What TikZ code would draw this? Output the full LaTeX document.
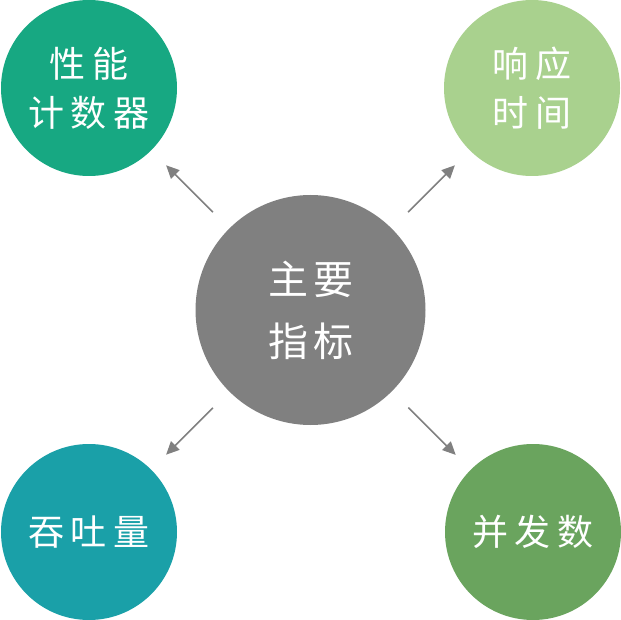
\documentclass[tikz,border=0pt]{standalone}
\usepackage{fontspec}
\newfontfamily\cjk{Noto Sans CJK SC}
\usetikzlibrary{arrows.meta,positioning}
\definecolor{counterc}{HTML}{17A882}
\definecolor{responsec}{HTML}{A9D18E}
\definecolor{throughc}{HTML}{1AA0A8}
\definecolor{concurc}{HTML}{6AA45E}
\definecolor{mainc}{HTML}{808080}
\newcommand{\cg}{\kern 7pt}
\tikzset{x=1pt,y=-1pt,
        every node/.style={ % Sets the properties for each circle
            circle,
            text=white,
            align=center,
            font=\cjk\fontsize{36pt}{53pt}\selectfont},
        metric/.style={minimum size=176pt},
        link/.style={ % Sets the properties for each arrow
            draw=mainc,
            line width=1.5pt,
            -{Triangle[length=13pt,width=12pt]},
            shorten <=23pt,
            shorten >=21pt}
        }
\begin{document}
\begin{tikzpicture}
    \useasboundingbox (0,0) rectangle (621,620);
    \node[fill=mainc,minimum size=230pt,font=\cjk\fontsize{40pt}{62pt}\selectfont]
        (main) at (310.5,310) {主\kern 5pt 要\\指\kern 5pt 标};
    \node[metric,fill=counterc]  (counter)  at (89,88)   {性\cg 能\\[-4pt]计\cg 数\cg 器};
    \node[metric,fill=responsec] (response) at (532,88)  {响\cg 应\\[-4pt]时\cg 间};
    \node[metric,fill=throughc]  (through)  at (89,532)  {吞\cg 吐\cg 量};
    \node[metric,fill=concurc]   (concur)   at (533,532) {并\cg 发\cg 数};

    \draw[link] (main) -- (counter);
    \draw[link] (main) -- (response);
    \draw[link] (main) -- (through);
    \draw[link] (main) -- (concur);
\end{tikzpicture}
\end{document}
